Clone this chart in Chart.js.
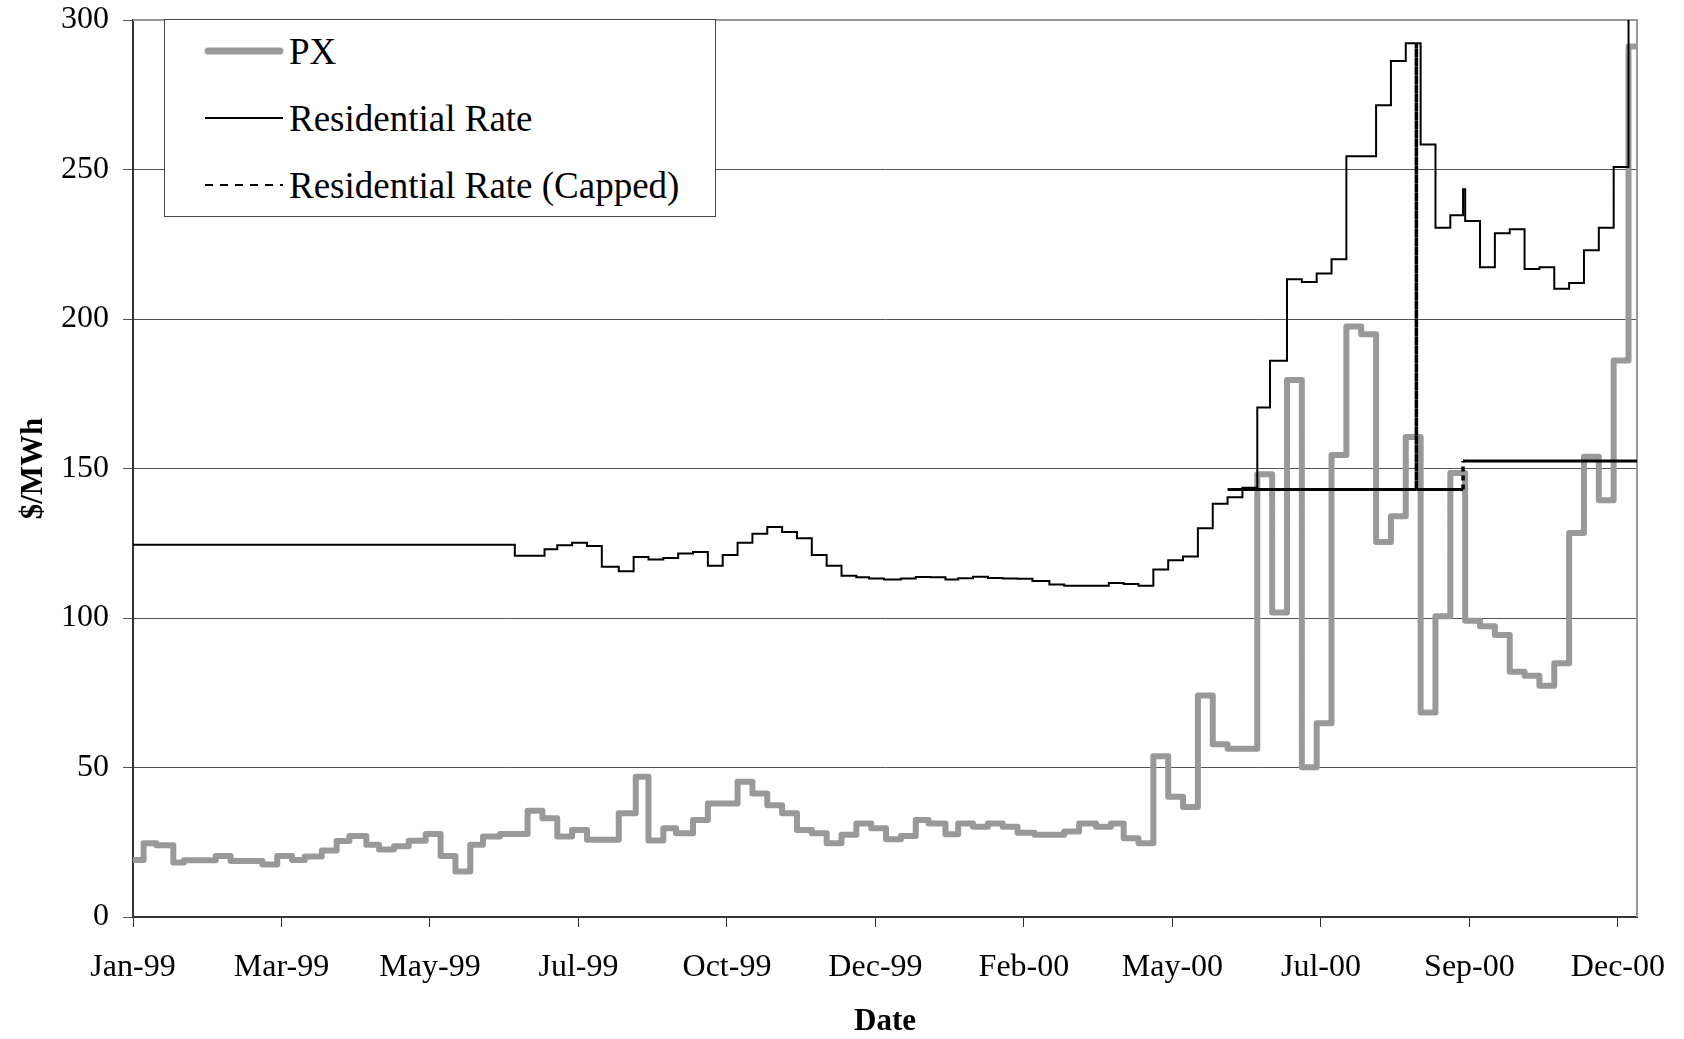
<!DOCTYPE html>
<html>
<head>
<meta charset="utf-8">
<title>PX vs Residential Rate</title>
<script src="https://cdn.jsdelivr.net/npm/chart.js@4.4.1/dist/chart.umd.min.js"></script>
<style>
  html, body { margin: 0; padding: 0; background: #fff; }
  #wrap { position: relative; width: 1684px; height: 1039px; }
  #legend {
    position: absolute; left: 164px; top: 19px; width: 552px; height: 198px;
    box-sizing: border-box; border: 1px solid #444; background: #fff;
    font-family: "Liberation Serif", "Times New Roman", serif; font-size: 37px; color: #000;
  }
  .row { position: absolute; left: 39px; height: 40px; display: flex; align-items: center; white-space: nowrap; }
  .row svg { margin-right: 5px; }
</style>
</head>
<body>
<div id="wrap">
  <canvas id="chart" width="1684" height="1039"></canvas>
  <div id="legend"></div>
</div>
<script>
// x axis is days since 1 Jan 1999, one label every 70 days
const tickLabels = ['Jan-99', 'Mar-99', 'May-99', 'Jul-99', 'Oct-99', 'Dec-99', 'Feb-00', 'May-00', 'Jul-00', 'Sep-00', 'Dec-00'];
const tickStep = 70;
const lastDay = 709;

// PX price, $/MWh (day where the level changes, new level)
const pxDays = [0, 5, 11, 19, 24, 39, 46, 61, 68, 75, 81, 89, 96, 102, 110, 116, 123, 130, 138, 145, 152, 159, 165, 173,
  186, 193, 200, 207, 214, 229, 237, 243, 250, 256, 264, 271, 285, 292, 299, 306, 313, 320, 327, 334, 341, 348, 355,
  362, 369, 375, 383, 389, 396, 403, 410, 417, 425, 439, 446, 454, 461, 467, 474, 481, 488, 495, 502, 509, 516, 530,
  537, 544, 551, 558, 565, 572, 579, 586, 593, 600, 607, 614, 621, 628, 635, 642, 649, 656, 663, 670, 677, 684, 691,
  698, 705, 709];
const pxValues = [19.1, 24.7, 24.0, 18.2, 19.0, 20.4, 18.7, 17.6, 20.4, 19.1, 20.2, 22.2, 25.4, 27.1, 24.2, 22.6, 23.7,
  25.5, 27.8, 20.4, 15.2, 24.2, 26.9, 27.8, 35.5, 33.0, 26.9, 29.1, 25.8, 34.7, 46.9, 25.6, 29.7, 28.0, 32.4, 38.0,
  45.2, 41.3, 37.4, 34.7, 29.1, 28.0, 24.7, 27.5, 31.3, 29.7, 26.0, 27.1, 32.4, 31.3, 27.7, 31.3, 30.2, 31.3, 30.2,
  28.2, 27.5, 28.6, 31.3, 30.2, 31.3, 26.3, 24.7, 53.8, 40.2, 36.8, 74.1, 57.8, 56.3, 148.1, 101.8, 179.6, 50.1, 64.8,
  154.5, 197.5, 194.9, 125.4, 134.0, 160.5, 68.4, 100.6, 148.5, 99.1, 97.2, 94.3, 82.0, 80.7, 77.3, 84.9, 128.4, 153.9,
  139.4, 186.1, 291.1, 291.1];

// residential rate, $/MWh
const resDays = [0, 180, 194, 200, 207, 214, 221, 229, 236, 243, 250, 257, 264, 271, 278, 285, 292, 299, 306, 313, 320,
  327, 334, 341, 347, 354, 362, 369, 376, 383, 389, 396, 403, 410, 417, 424, 432, 439, 460, 467, 474, 481, 488, 495,
  502, 509, 516, 523, 530, 536, 544, 551, 558, 565, 572, 586, 593, 600, 607, 614, 621, 627, 628, 635, 642, 649, 656,
  663, 670, 677, 684, 691, 698, 705, 709];
const resValues = [124.5, 120.8, 123.0, 124.3, 125.2, 124.1, 117.1, 115.6, 120.4, 119.6, 120.1, 121.6, 122.1, 117.5,
  121.1, 125.2, 128.2, 130.4, 128.8, 126.7, 121.1, 117.5, 114.1, 113.6, 113.2, 112.9, 113.2, 113.7, 113.6, 112.9, 113.3,
  113.8, 113.4, 113.2, 113.1, 112.4, 111.2, 110.8, 111.7, 111.4, 110.8, 116.2, 119.3, 120.6, 130.0, 138.2, 140.4, 143.6,
  170.4, 186.0, 213.3, 212.4, 215.2, 220.0, 254.4, 271.5, 286.3, 292.2, 258.4, 230.5, 234.7, 243.4, 232.8, 217.3, 228.7,
  230.0, 216.7, 217.3, 210.1, 212.0, 223.0, 230.5, 250.8, 330, 330];

// capped residential rate, $/MWh (null = break in the line)
const capDays = [516, 605, 605, 605, 605, 627, 627, 709];
const capValues = [143, 143, null, 292.2, 143, 143, 152.5, 152.5];

function toPoints(days, values) {
  return days.map((d, i) => ({ x: d, y: values[i] }));
}

const serif = '"Liberation Serif", "Times New Roman", serif';

const framePlugin = {
  id: 'frame',
  beforeDatasetsDraw(chart) {
    const { ctx, chartArea } = chart;
    ctx.save();
    ctx.strokeStyle = '#999';
    ctx.lineWidth = 2;
    ctx.beginPath();
    ctx.moveTo(chartArea.left, chartArea.top);
    ctx.lineTo(chartArea.right, chartArea.top);
    ctx.lineTo(chartArea.right, chartArea.bottom);
    ctx.stroke();
    ctx.restore();
  }
};

const isVertical = c => c.p0.parsed.x === c.p1.parsed.x;

const ctx = document.getElementById('chart').getContext('2d');
const chart = new Chart(ctx, {
  type: 'line',
  data: {
    datasets: [
      {
        label: 'PX',
        data: toPoints(pxDays, pxValues),
        stepped: 'before',
        borderColor: '#999999',
        borderWidth: 6,
        borderJoinStyle: 'round',
        borderCapStyle: 'round',
        pointRadius: 0,
        order: 3
      },
      {
        label: 'Residential Rate',
        data: toPoints(resDays, resValues),
        stepped: 'before',
        borderColor: '#000',
        borderWidth: 2,
        pointRadius: 0,
        order: 2
      },
      {
        label: 'Residential Rate (Capped)',
        data: toPoints(capDays, capValues),
        borderColor: '#000',
        borderWidth: 3,
        pointRadius: 0,
        spanGaps: false,
        legendDash: [8, 7],
        segment: {
          borderDash: c => isVertical(c) ? [5, 4] : undefined,
          borderWidth: c => isVertical(c) ? 3.5 : undefined
        },
        order: 1
      }
    ]
  },
  options: {
    responsive: false,
    animation: false,
    devicePixelRatio: 1,
    layout: { padding: { top: 20, right: 47, bottom: 0, left: 0 } },
    plugins: {
      legend: { display: false },
      tooltip: { enabled: false }
    },
    scales: {
      x: {
        type: 'linear',
        min: 0,
        max: lastDay,
        afterBuildTicks: s => { s.ticks = tickLabels.map((_, i) => ({ value: i * tickStep })); },
        afterFit: s => { s.height = 122; s.paddingLeft = 0; s.paddingRight = 0; },
        ticks: {
          autoSkip: false,
          maxRotation: 0,
          padding: 21,
          color: '#000',
          font: { family: serif, size: 32 },
          callback: v => tickLabels[Math.round(v / tickStep)]
        },
        grid: { drawOnChartArea: false, drawTicks: true, tickLength: 10, color: '#333' },
        border: { color: '#333', width: 2 },
        title: {
          display: true,
          text: 'Date',
          color: '#000',
          font: { family: serif, size: 31, weight: 'bold', lineHeight: 1 },
          padding: { top: 0, bottom: 2 }
        }
      },
      y: {
        min: 0,
        max: 300,
        afterFit: s => { s.width = 133; s.paddingTop = 0; s.paddingBottom = 0; },
        ticks: {
          stepSize: 50,
          padding: 14,
          color: '#000',
          font: { family: serif, size: 32, lineHeight: 1 }
        },
        grid: { color: '#555', lineWidth: 1, tickLength: 10 },
        border: { color: '#333', width: 2 },
        title: {
          display: true,
          text: '$/MWh',
          color: '#000',
          font: { family: serif, size: 31, weight: 'bold' },
          padding: { top: 15, bottom: 0 }
        }
      }
    }
  },
  plugins: [framePlugin]
});

// legend box inside the plot, built from the datasets
const legendEl = document.getElementById('legend');
const rowTops = [11, 78, 145];
chart.data.datasets.forEach((ds, i) => {
  const row = document.createElement('div');
  row.className = 'row';
  row.style.top = rowTops[i] + 'px';
  const dash = ds.legendDash ? ds.legendDash.join(' ') : 'none';
  const w = ds.label === 'PX' ? 7 : 2;
  const inset = ds.label === 'PX' ? 4 : 1;
  row.innerHTML =
    '<svg width="80" height="20"><line x1="' + inset + '" y1="10" x2="' + (80 - inset) + '" y2="10" stroke="' + ds.borderColor +
    '" stroke-width="' + w + '" stroke-linecap="' + (ds.label === 'PX' ? 'round' : 'butt') +
    '" stroke-dasharray="' + dash + '"/></svg><span>' + ds.label + '</span>';
  legendEl.appendChild(row);
});
</script>
</body>
</html>
